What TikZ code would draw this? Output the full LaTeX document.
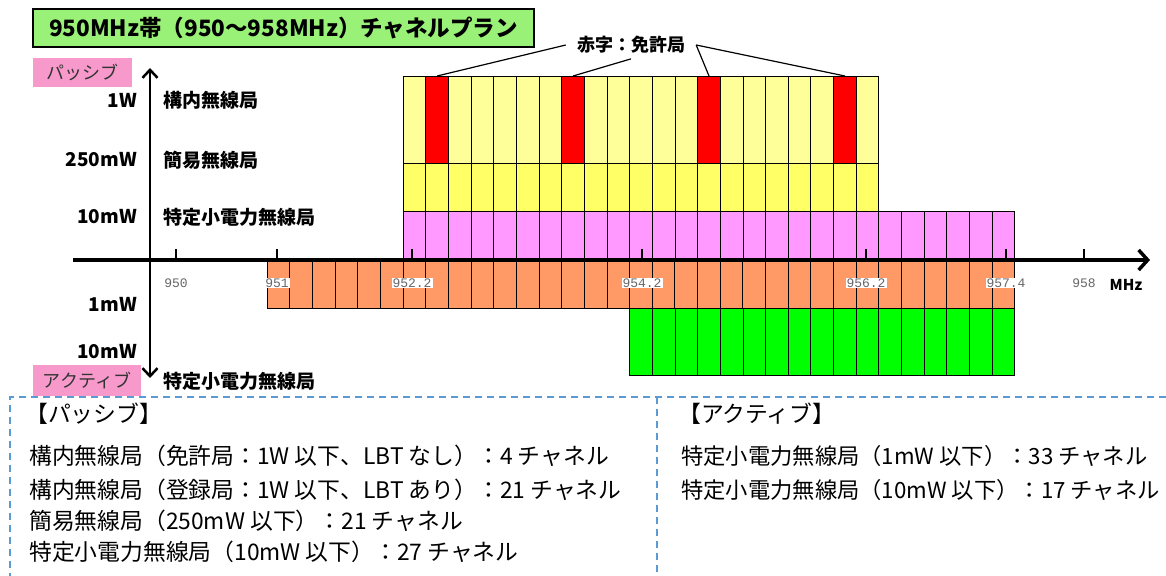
\documentclass[tikz,border=0pt]{standalone}
\usepackage{fontspec}
\usepackage{tikz}
\usetikzlibrary{arrows.meta}
\newfontfamily\jpfont{Noto Sans CJK JP}
\newfontfamily\tickfont{Liberation Mono}
\definecolor{lyellow}{HTML}{FFFF99}
\definecolor{myellow}{HTML}{FFFF66}
\definecolor{cellpink}{HTML}{FF99FF}
\definecolor{cellorange}{HTML}{FF9966}
\definecolor{cellgreen}{HTML}{00FF00}
\definecolor{titlegreen}{HTML}{99F277}
\definecolor{tagpink}{HTML}{F79ACB}
\definecolor{dashblue}{HTML}{5B9BD5}
\def\cw{22.66}

\begin{document}
\begin{tikzpicture}[x=1pt,y=-1pt,
	cell/.style={draw=black, line width=1pt, inner sep=0pt, anchor=north west, minimum width=\cw pt},
	lab/.style={font=\jpfont\bfseries\fontsize{19}{21}\selectfont, inner sep=0pt},
	tag/.style={fill=tagpink, inner sep=0pt, text=black!80, font=\jpfont\fontsize{18}{20}\selectfont},
	tick/.style={font=\tickfont\fontsize{13}{14}\selectfont, text=black!60, fill=white, inner sep=1pt},
	info/.style={anchor=west, inner sep=0pt, font=\jpfont\fontsize{22.8}{25}\selectfont},
	]
	\useasboundingbox (0,0) rectangle (1166,575);
	%Title and tags
	\node[draw=black, line width=2.5pt, fill=titlegreen, minimum width=501pt, minimum height=38pt,
		font=\jpfont\bfseries\fontsize{22.5}{24}\selectfont] (title) at (283.5,28) {950MHz帯（950～958MHz）チャネルプラン};
	\node[tag, minimum width=99pt, minimum height=29pt] (passive) at (82.5,72.5) {パッシブ};
	\node[tag, minimum width=108pt, minimum height=31pt] (active) at (87,380.5) {アクティブ};

	%Cells
	\foreach \i in {0,...,20}
		\node[cell, fill=lyellow, minimum height=87pt] (lic\i) at (402.6+\i*\cw,76) {};
	\foreach \i/\n in {1/1,7/2,13/3,19/4}
		\node[cell, fill=red, minimum height=87pt] (red\n) at (402.6+\i*\cw,76) {};
	\foreach \i in {0,...,20}
		\node[cell, fill=myellow, minimum height=48pt] (smp\i) at (402.6+\i*\cw,163) {};
	\foreach \i in {0,...,26}
		\node[cell, fill=cellpink, minimum height=49pt] (spw\i) at (402.6+\i*\cw,211) {};
	\foreach \i in {0,...,32}
		\node[cell, fill=cellorange, minimum height=48pt] (act\i) at (266.6+\i*\cw,260) {};
	\foreach \i in {0,...,16}
		\node[cell, fill=cellgreen, minimum height=67pt] (acg\i) at (629.2+\i*\cw,308) {};

	%Axes
	\coordinate (xs) at (73,260);
	\coordinate (xe) at (1150,260);
	\coordinate (yt) at (150,68);
	\coordinate (yb) at (150,378);
	\draw[line width=3.5pt, -{Straight Barb[length=9pt,width=20pt]}] (xs) -- (xe);
	\draw[line width=2.5pt, {Straight Barb[length=8pt,width=15pt]}-{Straight Barb[length=8pt,width=15pt]}] (yt) -- (yb);
	\foreach \x/\t [count=\k] in {176/950, 277/951, 412/952.2, 642/954.2, 866/956.2, 1006/957.4, 1084/958}{
		\draw[line width=1.2pt] (\x,249) -- (\x,260);
		\node[tick] (tk\k) at (\x,283) {\t};
	}
	\node[lab, font=\jpfont\bfseries\fontsize{15}{17}\selectfont] (unit) at (1126,285) {MHz};

	%Power levels
	\node[lab, anchor=east] (w1) at (137,100) {1W};
	\node[lab, anchor=east] (w250) at (137,160) {250mW};
	\node[lab, anchor=east] (w10) at (137,217) {10mW};
	\node[lab, anchor=east] (a1) at (137,304) {1mW};
	\node[lab, anchor=east] (a10) at (137,352) {10mW};
	\node[lab, anchor=west] (s1) at (163,100) {構内無線局};
	\node[lab, anchor=west] (s2) at (163,160) {簡易無線局};
	\node[lab, anchor=west] (s3) at (163,217) {特定小電力無線局};
	\node[lab, anchor=west] (s4) at (163,381) {特定小電力無線局};

	%Licence note
	\node[lab, inner xsep=11pt, inner ysep=5pt, font=\jpfont\bfseries\fontsize{18}{20}\selectfont] (note) at (631,45) {赤字：免許局};
	\draw[line width=1.2pt] (note.west) -- (red1.north);
	\draw[line width=1.2pt] (note.south) -- (red2.north);
	\draw[line width=1.2pt] (note.east) -- (red3.north);
	\draw[line width=1.2pt] (note.east) -- (red4.north);

	%Summary box
	\draw[dashblue, line width=1.5pt, dash pattern=on 7pt off 5pt] (10,580) -- (10,397) -- (1166,397);
	\draw[dashblue, line width=1.5pt, dash pattern=on 7pt off 5pt] (657,397) -- (657,580);
	\node[info] (ph) at (25,414) {【パッシブ】};
	\node[info] (p1) at (29,456) {構内無線局（免許局：1W 以下、LBT なし）：4 チャネル};
	\node[info] (p2) at (29,490) {構内無線局（登録局：1W 以下、LBT あり）：21 チャネル};
	\node[info] (p3) at (29,521) {簡易無線局（250mW 以下）：21 チャネル};
	\node[info] (p4) at (29,552) {特定小電力無線局（10mW 以下）：27 チャネル};
	\node[info] (ah) at (678,414) {【アクティブ】};
	\node[info, font=\jpfont\fontsize{22.3}{25}\selectfont] (a1t) at (681,456) {特定小電力無線局（1mW 以下）：33 チャネル};
	\node[info, font=\jpfont\fontsize{22.3}{25}\selectfont] (a2t) at (681,490) {特定小電力無線局（10mW 以下）：17 チャネル};
\end{tikzpicture}
\end{document}
